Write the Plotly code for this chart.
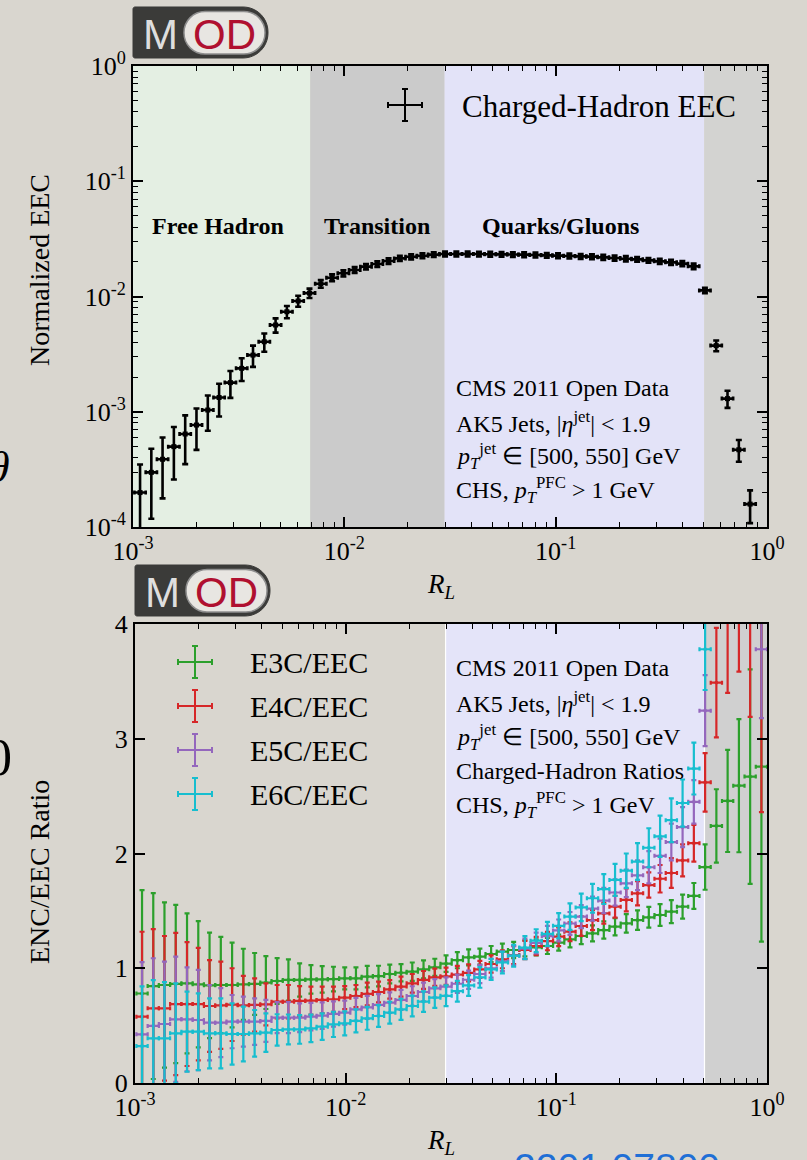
import plotly.graph_objects as go

W, H = 807, 1160
def px(x): return x / W
def py(y): return 1 - y / H

# ---------------- data ----------------
# bin centres in R_L (log-spaced bins), shared by both panels
r_l = [0.001080, 0.001221, 0.001380, 0.001561, 0.001766, 0.001997, 0.002259, 0.002555,
       0.002890, 0.003268, 0.003697, 0.004181, 0.004728, 0.005348, 0.006047, 0.006841,
       0.007737, 0.008750, 0.009897, 0.01119, 0.01266, 0.01432, 0.01619, 0.01831,
       0.02071, 0.02342, 0.02649, 0.02996, 0.03389, 0.03833, 0.04335, 0.04903,
       0.05545, 0.06272, 0.07093, 0.08023, 0.09074, 0.1026, 0.1161, 0.1313,
       0.1485, 0.1680, 0.1900, 0.2148, 0.2429, 0.2748, 0.3108, 0.3515,
       0.3975, 0.4496, 0.5084, 0.5750, 0.6503, 0.7356, 0.8318, 0.9408]
bin_half_width_log10 = 0.02673

# top panel: normalized charged-hadron EEC
eec = [1.99e-4, 2.98e-4, 3.87e-4, 4.98e-4, 6.41e-4, 7.67e-4, 1.035e-3, 1.33e-3,
       1.79e-3, 2.38e-3, 3.10e-3, 4.05e-3, 5.66e-3, 7.38e-3, 9.14e-3, 1.07e-2,
       1.29e-2, 1.456e-2, 1.59e-2, 1.70e-2, 1.815e-2, 1.914e-2, 2.03e-2, 2.14e-2,
       2.21e-2, 2.26e-2, 2.31e-2, 2.34e-2, 2.34e-2, 2.34e-2, 2.337e-2, 2.329e-2,
       2.321e-2, 2.314e-2, 2.307e-2, 2.291e-2, 2.276e-2, 2.261e-2, 2.246e-2, 2.231e-2,
       2.216e-2, 2.187e-2, 2.158e-2, 2.129e-2, 2.101e-2, 2.060e-2, 2.019e-2, 1.979e-2,
       1.928e-2, 1.827e-2, 1.13e-2, 3.75e-3, 1.30e-3, 4.68e-4, 1.58e-4]
eec_err = [1.5e-4, 1.8e-4, 2.1e-4, 2.4e-4, 2.9e-4, 3.0e-4, 3.5e-4, 4.2e-4,
           4.7e-4, 5.3e-4, 6.5e-4, 7.3e-4, 8.0e-4, 9.0e-4, 1.0e-3, 1.0e-3,
           1.0e-3, 1.0e-3, 1.0e-3, 1.0e-3, 1.0e-3, 1.1e-3, 1.1e-3, 1.1e-3,
           1.1e-3, 1.1e-3, 1.1e-3, 1.1e-3, 1.1e-3, 1.1e-3, 1.1e-3, 1.1e-3,
           1.1e-3, 1.1e-3, 1.1e-3, 1.1e-3, 1.1e-3, 1.1e-3, 1.1e-3, 1.1e-3,
           1.1e-3, 1.1e-3, 1.1e-3, 1.1e-3, 1.0e-3, 1.0e-3, 1.0e-3, 1.0e-3,
           1.0e-3, 1.0e-3, 6.0e-4, 4.0e-4, 2.2e-4, 1.0e-4, 5.0e-5]

# bottom panel: ENC / EEC ratios
e3c = [0.78, 0.845, 0.854, 0.863, 0.869, 0.86, 0.851, 0.854, 0.854, 0.86, 0.863, 0.875,
       0.889, 0.898, 0.898, 0.903, 0.903, 0.906, 0.912, 0.912, 0.927, 0.932, 0.95, 0.961,
       0.97, 0.991, 1.008, 1.04, 1.07, 1.095, 1.101, 1.124, 1.145, 1.159, 1.174, 1.182,
       1.194, 1.223, 1.252, 1.281, 1.304, 1.333, 1.362, 1.391, 1.42, 1.444, 1.464, 1.493,
       1.537, 1.63, 1.882, 2.24, 2.458, 2.591, 2.67, 2.757]
e3c_err = [0.9, 0.81, 0.72, 0.69, 0.61, 0.55, 0.46, 0.42, 0.37, 0.31, 0.27, 0.23,
           0.2, 0.18, 0.145, 0.125, 0.116, 0.107, 0.096, 0.096, 0.093, 0.09, 0.081, 0.075,
           0.08, 0.078, 0.075, 0.072, 0.07, 0.07, 0.07, 0.07, 0.07, 0.07, 0.07, 0.07,
           0.07, 0.07, 0.07, 0.07, 0.07, 0.075, 0.075, 0.08, 0.085, 0.09, 0.095, 0.1,
           0.105, 0.113, 0.198, 0.32, 0.445, 0.58, 0.935, 1.525]

e4c = [0.578, 0.651, 0.651, 0.688, 0.688, 0.688, 0.671, 0.677, 0.683, 0.677, 0.68, 0.686,
       0.709, 0.709, 0.715, 0.718, 0.724, 0.73, 0.744, 0.758, 0.776, 0.793, 0.816, 0.84,
       0.869, 0.898, 0.921, 0.93, 0.945, 0.96, 0.99, 1.037, 1.078, 1.115, 1.159, 1.194,
       1.237, 1.275, 1.319, 1.368, 1.42, 1.478, 1.537, 1.595, 1.653, 1.725, 1.78, 1.83,
       1.94, 2.09, 2.62, 3.489, 4.3, 4.5, 4.8, 5.0]
e4c_err = [0.74, 0.69, 0.63, 0.62, 0.54, 0.49, 0.40, 0.38, 0.317, 0.256, 0.232, 0.183,
           0.145, 0.145, 0.13, 0.122, 0.116, 0.11, 0.10, 0.096, 0.099, 0.09, 0.081, 0.087,
           0.081, 0.078, 0.075, 0.075, 0.075, 0.075, 0.075, 0.075, 0.078, 0.078, 0.08, 0.08,
           0.08, 0.082, 0.082, 0.085, 0.088, 0.09, 0.095, 0.1, 0.105, 0.11, 0.12, 0.13,
           0.14, 0.16, 0.255, 0.477, 0.9, 0.915, 1.61, 2.64]

e5c = [0.424, 0.497, 0.514, 0.555, 0.555, 0.549, 0.526, 0.526, 0.535, 0.535, 0.535, 0.541,
       0.569, 0.569, 0.569, 0.578, 0.587, 0.602, 0.613, 0.642, 0.659, 0.68, 0.70, 0.724,
       0.758, 0.793, 0.825, 0.84, 0.865, 0.90, 0.95, 1.0, 1.06, 1.11, 1.17, 1.22,
       1.28, 1.33, 1.39, 1.45, 1.52, 1.59, 1.66, 1.74, 1.81, 1.88, 1.98, 2.1,
       2.23, 2.45, 3.245, None, None, None, None, 3.78]
e5c_err = [0.63, 0.59, 0.543, 0.546, 0.453, 0.436, 0.328, 0.30, 0.232, 0.218, 0.203, 0.183,
           0.135, 0.135, 0.125, 0.12, 0.115, 0.11, 0.105, 0.1, 0.1, 0.095, 0.09, 0.088,
           0.085, 0.082, 0.08, 0.08, 0.08, 0.08, 0.08, 0.082, 0.085, 0.085, 0.088, 0.09,
           0.09, 0.095, 0.1, 0.1, 0.105, 0.11, 0.115, 0.12, 0.13, 0.14, 0.15, 0.16,
           0.175, 0.19, 0.31, 0.0, 0.0, 0.0, 0.0, 0.6]

e6c = [0.322, 0.389, 0.389, 0.433, 0.447, 0.447, 0.433, 0.433, 0.427, 0.427, 0.433, 0.439,
       0.462, 0.467, 0.467, 0.476, 0.491, 0.511, 0.52, 0.541, 0.564, 0.584, 0.613, 0.642,
       0.671, 0.709, 0.744, 0.76, 0.80, 0.85, 0.92, 0.99, 1.05, 1.11, 1.18, 1.24,
       1.30, 1.37, 1.45, 1.53, 1.61, 1.69, 1.77, 1.85, 1.93, 2.05, 2.15, 2.29,
       2.44, 2.74, 3.78, None, None, None, None, None]
e6c_err = [0.52, 0.508, 0.49, 0.436, 0.349, 0.334, 0.305, 0.305, 0.267, 0.238, 0.203, 0.168,
           0.137, 0.13, 0.125, 0.12, 0.115, 0.11, 0.105, 0.1, 0.1, 0.095, 0.095, 0.092,
           0.09, 0.09, 0.09, 0.09, 0.09, 0.09, 0.09, 0.092, 0.095, 0.095, 0.1, 0.1,
           0.105, 0.11, 0.115, 0.12, 0.125, 0.13, 0.14, 0.15, 0.16, 0.17, 0.18, 0.19,
           0.205, 0.226, 0.355, 0.0, 0.0, 0.0, 0.0, 0.0]

ratio_names = ["E3C/EEC", "E4C/EEC", "E5C/EEC", "E6C/EEC"]
ratio_colors = ["#2ca02c", "#d62728", "#9467bd", "#17becf"]

# region boundaries in R_L
region_edges = [0.001, 0.0069, 0.0298, 0.505, 1.0]
top_region_colors = ["#e4efe3", "#cbcbcb", "#e3e3f8", "#d3d3d1"]
region_labels = ["Free Hadron", "Transition", "Quarks/Gluons"]

info_top = ["CMS 2011 Open Data",
            "AK5 Jets, |<i>η</i><sup>jet</sup>| &lt; 1.9",
            "<i>p</i><sub><i>T</i></sub><sup>jet</sup> ∈ [500, 550] GeV",
            "CHS, <i>p</i><sub><i>T</i></sub><sup>PFC</sup> &gt; 1 GeV"]
info_bot = ["CMS 2011 Open Data",
            "AK5 Jets, |<i>η</i><sup>jet</sup>| &lt; 1.9",
            "<i>p</i><sub><i>T</i></sub><sup>jet</sup> ∈ [500, 550] GeV",
            "Charged-Hadron Ratios",
            "CHS, <i>p</i><sub><i>T</i></sub><sup>PFC</sup> &gt; 1 GeV"]

# ---------------- figure ----------------
SERIF = "Liberation Serif"
BG = "#d9d6cf"

xp = [x * (10 ** bin_half_width_log10 - 1) for x in r_l]
xm = [x * (1 - 10 ** (-bin_half_width_log10)) for x in r_l]

fig = go.Figure()

fig.add_trace(go.Scatter(
    x=r_l[:len(eec)], y=eec, mode="markers", xaxis="x", yaxis="y",
    marker=dict(symbol="square", size=5, color="black"),
    error_y=dict(type="data", array=eec_err, color="black", thickness=2.6, width=3),
    error_x=dict(type="data", array=xp[:len(eec)], arrayminus=xm[:len(eec)],
                 symmetric=False, color="black", thickness=2.6, width=2),
    showlegend=False, hoverinfo="skip"))

for vals, errs, col in zip([e3c, e4c, e5c, e6c], [e3c_err, e4c_err, e5c_err, e6c_err], ratio_colors):
    fig.add_trace(go.Scatter(
        x=r_l, y=vals, mode="markers", xaxis="x2", yaxis="y2",
        marker=dict(symbol="square", size=3, color=col),
        error_y=dict(type="data", array=errs, color=col, thickness=2.2, width=2.5),
        error_x=dict(type="data", array=xp, arrayminus=xm, symmetric=False,
                     color=col, thickness=2.2, width=2),
        showlegend=False, hoverinfo="skip"))

tick_font = dict(family=SERIF, size=26, color="black")
log_ticks = [0.001, 0.01, 0.1, 1]
log_ticktext = ["10<sup>-3</sup>", "10<sup>-2</sup>", "10<sup>-1</sup>", "10<sup>0</sup>"]
axis_common = dict(showline=True, linecolor="black", linewidth=2, mirror="ticks",
                   ticks="inside", ticklen=10, tickwidth=1.6, tickcolor="black",
                   showgrid=False, zeroline=False, tickfont=tick_font, automargin=False)
minor_log = dict(ticks="inside", ticklen=5, tickwidth=1.3, tickcolor="black",
                 dtick="D1", showgrid=False)

fig.update_layout(
    width=W, height=H, margin=dict(l=0, r=0, t=0, b=0, autoexpand=False),
    paper_bgcolor=BG, plot_bgcolor="rgba(0,0,0,0)",
    xaxis=dict(type="log", range=[-3, 0], domain=[px(133), px(767)], anchor="y",
               tickvals=log_ticks, ticktext=log_ticktext, minor=minor_log, **axis_common),
    yaxis=dict(type="log", range=[-4, 0], domain=[py(527), py(66)], anchor="x",
               tickvals=[1e-4, 1e-3, 1e-2, 1e-1, 1],
               ticktext=["10<sup>-4</sup>", "10<sup>-3</sup>", "10<sup>-2</sup>",
                         "10<sup>-1</sup>", "10<sup>0</sup>"],
               minor=minor_log, **axis_common),
    xaxis2=dict(type="log", range=[-3, 0], domain=[px(135), px(767)], anchor="y2",
                tickvals=log_ticks, ticktext=log_ticktext, minor=minor_log, **axis_common),
    yaxis2=dict(range=[0, 4], domain=[py(1083), py(624)], anchor="x2",
                tickvals=[0, 1, 2, 3, 4], **axis_common),
)

shapes = []
# top regions
for i, col in enumerate(top_region_colors):
    shapes.append(dict(type="rect", xref="x", yref="y domain", x0=region_edges[i],
                       x1=region_edges[i + 1], y0=0, y1=1, fillcolor=col,
                       line=dict(width=0), layer="below"))
# bottom regions
shapes.append(dict(type="rect", xref="x2", yref="y2 domain", x0=region_edges[2], x1=region_edges[3],
                   y0=0, y1=1, fillcolor="#e4e4f9", line=dict(width=0), layer="below"))
shapes.append(dict(type="rect", xref="x2", yref="y2 domain", x0=region_edges[3], x1=region_edges[4],
                   y0=0, y1=1, fillcolor="#d0d0d0", line=dict(width=0), layer="below"))
for e in region_edges[2:4]:
    shapes.append(dict(type="line", xref="x2", yref="y2 domain", x0=e, x1=e, y0=0, y1=1,
                       line=dict(color="white", width=1.2), layer="below"))


def cross(cx, cy, col, hw=16, hh=16, cap=3, w=2):
    out = []
    L = lambda x0, y0, x1, y1: dict(type="line", xref="paper", yref="paper",
                                     x0=px(x0), y0=py(y0), x1=px(x1), y1=py(y1),
                                     line=dict(color=col, width=w))
    out.append(L(cx - hw, cy, cx + hw, cy))
    out.append(L(cx, cy - hh, cx, cy + hh))
    out.append(L(cx - hw, cy - cap, cx - hw, cy + cap))
    out.append(L(cx + hw, cy - cap, cx + hw, cy + cap))
    out.append(L(cx - cap, cy - hh, cx + cap, cy - hh))
    out.append(L(cx - cap, cy + hh, cx + cap, cy + hh))
    return out

shapes += cross(405, 105, "black", hw=17, hh=16, cap=3, w=2)
legend_y = [662, 706, 750, 794]
for yy, col in zip(legend_y, ratio_colors):
    shapes += cross(195, yy, col, hw=17, hh=16, cap=3, w=2)


def rounded(x0, y0, x1, y1, rl, rr):
    k = 0.5523
    P = lambda x, y: f"{px(x):.5f},{py(y):.5f}"
    d = f"M {P(x0 + rl, y0)} L {P(x1 - rr, y0)} "
    d += f"C {P(x1 - rr + k * rr, y0)} {P(x1, y0 + rr - k * rr)} {P(x1, y0 + rr)} "
    d += f"L {P(x1, y1 - rr)} "
    d += f"C {P(x1, y1 - rr + k * rr)} {P(x1 - rr + k * rr, y1)} {P(x1 - rr, y1)} "
    d += f"L {P(x0 + rl, y1)} "
    d += f"C {P(x0 + rl - k * rl, y1)} {P(x0, y1 - rl + k * rl)} {P(x0, y1 - rl)} "
    d += f"L {P(x0, y0 + rl)} "
    d += f"C {P(x0, y0 + rl - k * rl)} {P(x0 + rl - k * rl, y0)} {P(x0 + rl, y0)} Z"
    return d

annotations = []
def logo(x0, y0):
    shapes.append(dict(type="path", xref="paper", yref="paper",
                       path=rounded(x0, y0, x0 + 135, y0 + 51, 2, 25),
                       fillcolor="#3b3b39", line=dict(color="#3b3b39", width=1)))
    shapes.append(dict(type="path", xref="paper", yref="paper",
                       path=rounded(x0 + 51, y0 + 4.5, x0 + 132, y0 + 47, 21, 21),
                       fillcolor="#e8e6e2", line=dict(color="#8e8e8e", width=1.5)))
    annotations.append(dict(x=px(x0 + 27), y=py(y0 + 27), xref="paper", yref="paper",
                            text="M", showarrow=False, xanchor="center", yanchor="middle",
                            font=dict(family="Liberation Sans", size=42, color="#dedede")))
    annotations.append(dict(x=px(x0 + 91), y=py(y0 + 27), xref="paper", yref="paper",
                            text="OD", showarrow=False, xanchor="center", yanchor="middle",
                            font=dict(family="Liberation Sans", size=42, color="#b01030")))

logo(133, 7)
logo(135, 565)

def text(x, y, s, size, xanchor="left", bold=False, color="black", family=SERIF,
         yanchor="middle", angle=0):
    annotations.append(dict(x=px(x), y=py(y), xref="paper", yref="paper",
                            text=(f"<b>{s}</b>" if bold else s), showarrow=False,
                            xanchor=xanchor, yanchor=yanchor, textangle=angle,
                            font=dict(family=family, size=size, color=color)))

text(460, 106, "Charged-Hadron EEC", 31)
for xc, lab in zip([218, 377, 560], region_labels):
    text(xc, 226, lab, 24, xanchor="center", bold=True)
for i, s in enumerate(info_top):
    text(454, 388 + 34 * i, s, 24)
for i, s in enumerate(info_bot):
    text(454, 668 + 34.3 * i, s, 24)
for yy, s in zip(legend_y, ratio_names):
    text(248, yy, s, 30)

text(40, 270, "Normalized EEC", 28, xanchor="center", angle=-90)
text(40, 872, "ENC/EEC Ratio", 28, xanchor="center", angle=-90)
text(441, 586, "<i>R</i><sub><i>L</i></sub>", 27, xanchor="center")
text(441, 1142, "<i>R</i><sub><i>L</i></sub>", 27, xanchor="center")

# slide fragments cut at the edges
text(12, 467, "<i>θ</i>", 44, xanchor="right")
text(14, 757, "0", 52, xanchor="right")
text(512, 1144, "2201.07800", 39, xanchor="left", yanchor="top", color="#1f6fd6",
     family="Liberation Sans")

fig.update_layout(shapes=shapes, annotations=annotations)
fig.write_html("out.html")
